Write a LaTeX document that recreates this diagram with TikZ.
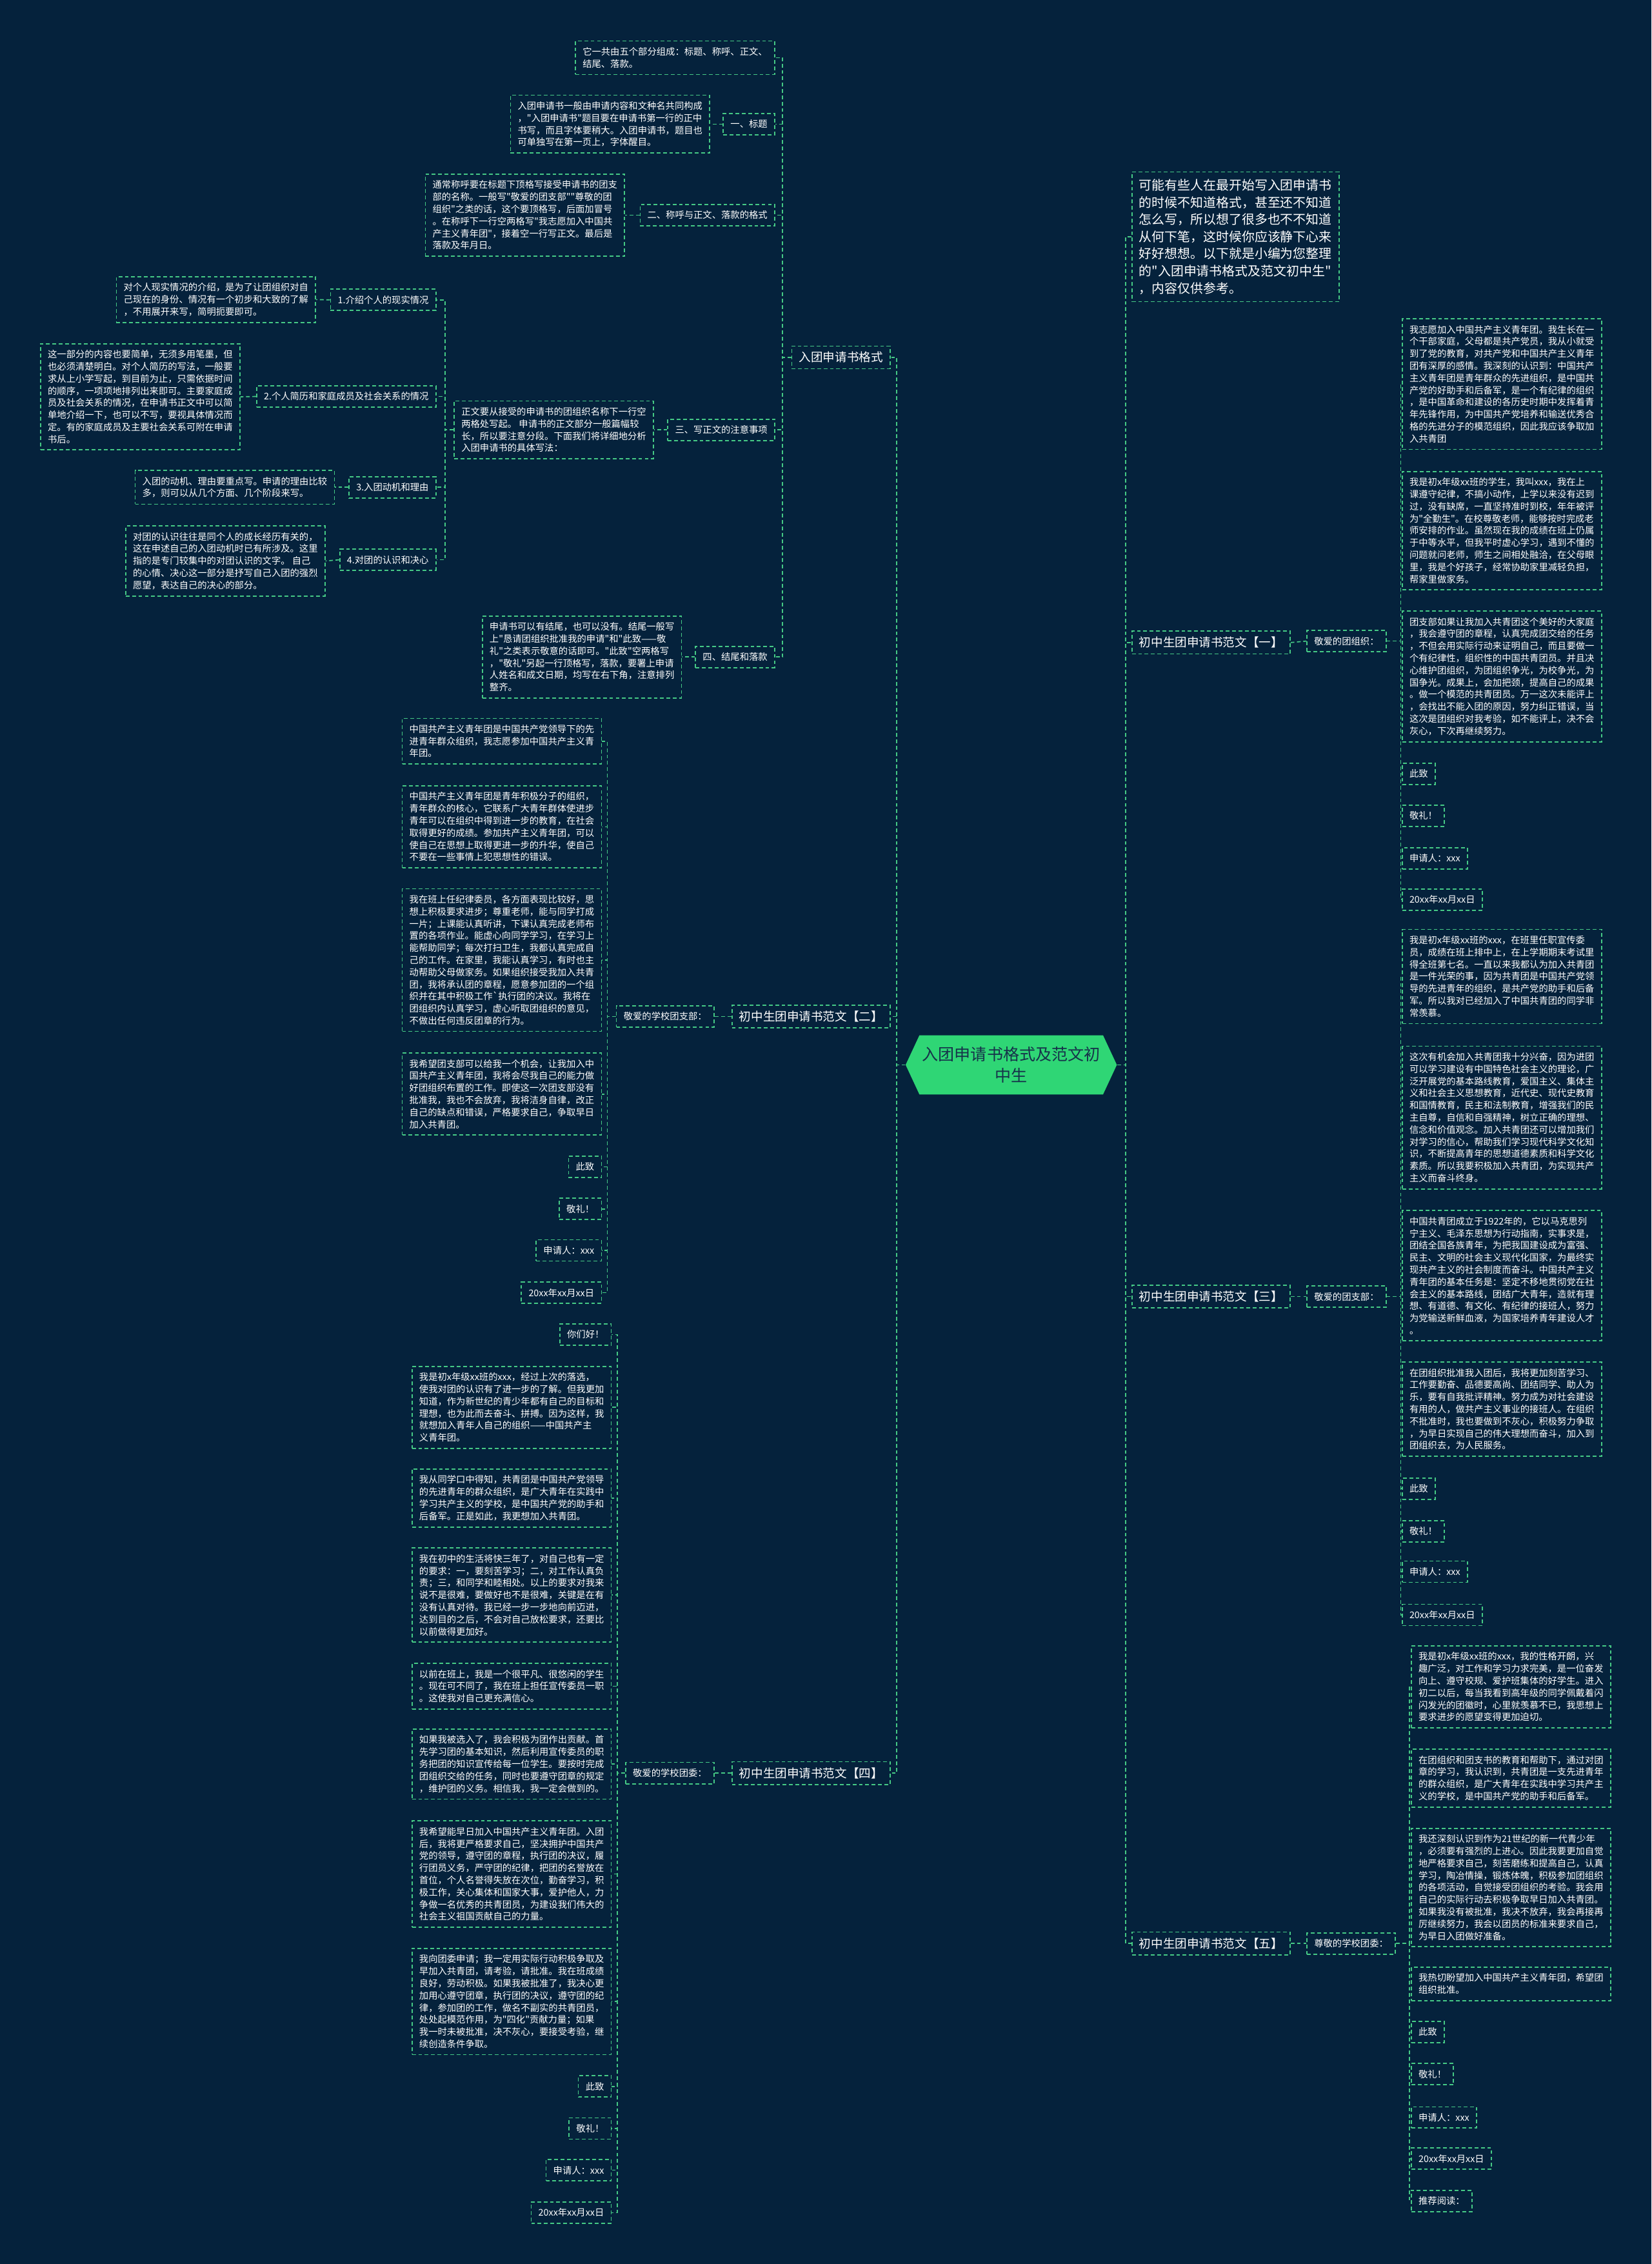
\documentclass[tikz,border=0pt]{standalone}
\usepackage{fontspec}
\setmainfont{Noto Sans CJK SC}[Ligatures=TeXOff]
\usetikzlibrary{shapes.symbols}
\usepackage{xcolor}

\definecolor{bgnavy}{HTML}{05223C}
\definecolor{linegreen}{HTML}{45C985}
\definecolor{hubgreen}{HTML}{2FD675}
\definecolor{hubtext}{HTML}{16324A}

\newcommand{\leaffont}{\fontsize{6.4pt}{8.4pt}\selectfont}
\newcommand{\branchfont}{\fontsize{8.3pt}{10pt}\selectfont}
\newcommand{\introfont}{\fontsize{8.9pt}{11.9pt}\selectfont}
\newcommand{\hubfont}{\fontsize{11.2pt}{15pt}\selectfont}

\begin{document}
\begin{tikzpicture}[
      x=1pt, y=-1pt,
      green_dash/.style={dash pattern=on 2.6pt off 1.8pt, line width=0.75pt},
      block/.style={rectangle, draw=linegreen, green_dash, text=white, font=\leaffont, align=left, inner xsep=5pt, inner ysep=4.4pt},
      left_block/.style={block, anchor=east},
      right_block/.style={block, anchor=west},
      branch_left/.style={left_block, font=\branchfont, inner ysep=4pt},
      branch_right/.style={right_block, font=\branchfont, inner ysep=4pt},
      intro_block/.style={right_block, font=\introfont, inner ysep=5pt},
      hub_block/.style={signal, signal to=west and east, signal pointer angle=130, fill=hubgreen, text=hubtext, font=\hubfont, align=center, minimum width=143pt, minimum height=41pt, inner xsep=2pt},
      line/.style={draw=linegreen, green_dash}
  ]

  \fill[bgnavy] (0,0) rectangle (1144,1568);
  \useasboundingbox (0,0) rectangle (1144,1568);

  \node [hub_block] (hub) at (700.5,737.5) {入团申请书格式及范文初\\中生};

  % left: format
  \node [branch_left] (fmt) at (617,247.5) {入团申请书格式};
  \node [left_block] (parts) at (537,40) {它一共由五个部分组成：标题、称呼、正文、\\结尾、落款。};
  \node [left_block] (title) at (537,86) {一、标题};
  \node [left_block] (title_txt) at (492,86) {入团申请书一般由申请内容和文种名共同构成\\，"入团申请书"题目要在申请书第一行的正中\\书写，而且字体要稍大。入团申请书，题目也\\可单独写在第一页上，字体醒目。};
  \node [left_block] (call) at (537,149) {二、称呼与正文、落款的格式};
  \node [left_block] (call_txt) at (433,149) {通常称呼要在标题下顶格写接受申请书的团支\\部的名称。一般写"敬爱的团支部""尊敬的团\\组织"之类的话，这个要顶格写，后面加冒号\\。在称呼下一行空两格写"我志愿加入中国共\\产主义青年团"，接着空一行写正文。最后是\\落款及年月日。};
  \node [left_block] (body) at (537,297.7) {三、写正文的注意事项};
  \node [left_block] (body_txt) at (453,297.7) {正文要从接受的申请书的团组织名称下一行空\\两格处写起。 申请书的正文部分一般篇幅较\\长，所以要注意分段。下面我们将详细地分析\\入团申请书的具体写法：};
  \node [left_block] (item1) at (302.3,207.7) {1.介绍个人的现实情况};
  \node [left_block] (item1_txt) at (219,207.5) {对个人现实情况的介绍，是为了让团组织对自\\己现在的身份、情况有一个初步和大致的了解\\，不用展开来写，简明扼要即可。};
  \node [left_block] (item2) at (302.3,274.6) {2.个人简历和家庭成员及社会关系的情况};
  \node [left_block] (item2_txt) at (166.5,274.8) {这一部分的内容也要简单，无须多用笔墨，但\\也必须清楚明白。对个人简历的写法，一般要\\求从上小学写起，到目前为止，只需依据时间\\的顺序，一项项地排列出来即可。主要家庭成\\员及社会关系的情况，在申请书正文中可以简\\单地介绍一下，也可以不写，要视具体情况而\\定。有的家庭成员及主要社会关系可附在申请\\书后。};
  \node [left_block] (item3) at (302.3,337.5) {3.入团动机和理由};
  \node [left_block] (item3_txt) at (232,337.5) {入团的动机、理由要重点写。申请的理由比较\\多，则可以从几个方面、几个阶段来写。};
  \node [left_block] (item4) at (302.3,387.7) {4.对团的认识和决心};
  \node [left_block] (item4_txt) at (225.5,388.5) {对团的认识往往是同个人的成长经历有关的，\\这在申述自己的入团动机时已有所涉及。这里\\指的是专门较集中的对团认识的文字。 自己\\的心情、决心这一部分是抒写自己入团的强烈\\愿望，表达自己的决心的部分。};
  \node [left_block] (end) at (537,455) {四、结尾和落款};
  \node [left_block] (end_txt) at (472.5,455) {申请书可以有结尾，也可以没有。结尾一般写\\上"恳请团组织批准我的申请"和"此致——敬\\礼"之类表示敬意的话即可。"此致"空两格写\\，"敬礼"另起一行顶格写，落款，要署上申请\\人姓名和成文日期，均写在右下角，注意排列\\整齐。};

  % left: sample two
  \node [branch_left] (two) at (617,704) {初中生团申请书范文【二】};
  \node [left_block] (two_to) at (495,704) {敬爱的学校团支部：};
  \node [left_block] (two_p1) at (417,513.3) {中国共产主义青年团是中国共产党领导下的先\\进青年群众组织，我志愿参加中国共产主义青\\年团。};
  \node [left_block] (two_p2) at (417,572.6) {中国共产主义青年团是青年积极分子的组织，\\青年群众的核心，它联系广大青年群体使进步\\青年可以在组织中得到进一步的教育，在社会\\取得更好的成绩。参加共产主义青年团，可以\\使自己在思想上取得更进一步的升华，使自己\\不要在一些事情上犯思想性的错误。};
  \node [left_block] (two_p3) at (417,664.9) {我在班上任纪律委员，各方面表现比较好，思\\想上积极要求进步；尊重老师，能与同学打成\\一片；上课能认真听讲，下课认真完成老师布\\置的各项作业。能虚心向同学学习，在学习上\\能帮助同学；每次打扫卫生，我都认真完成自\\己的工作。在家里，我能认真学习，有时也主\\动帮助父母做家务。如果组织接受我加入共青\\团，我将承认团的章程，愿意参加团的一个组\\织并在其中积极工作`执行团的决议。我将在\\团组织内认真学习，虚心听取团组织的意见，\\不做出任何违反团章的行为。};
  \node [left_block] (two_p4) at (417,757.7) {我希望团支部可以给我一个机会，让我加入中\\国共产主义青年团，我将会尽我自己的能力做\\好团组织布置的工作。即使这一次团支部没有\\批准我，我也不会放弃，我将洁身自律，改正\\自己的缺点和错误，严格要求自己，争取早日\\加入共青团。};
  \node [left_block] (two_e1) at (417,808.1) {此致};
  \node [left_block] (two_e2) at (417,837.3) {敬礼！};
  \node [left_block] (two_e3) at (417,866) {申请人：xxx};
  \node [left_block] (two_e4) at (417,895.3) {20xx年xx月xx日};

  % left: sample four
  \node [branch_left] (four) at (617,1228) {初中生团申请书范文【四】};
  \node [left_block] (four_to) at (495,1228) {敬爱的学校团委：};
  \node [left_block] (four_hi) at (423.8,924.3) {你们好！};
  \node [left_block] (four_p1) at (423.8,974.7) {我是初x年级xx班的xxx，经过上次的落选，\\使我对团的认识有了进一步的了解。但我更加\\知道，作为新世纪的青少年都有自己的目标和\\理想，也为此而去奋斗、拼搏。因为这样，我\\就想加入青年人自己的组织——中国共产主\\义青年团。};
  \node [left_block] (four_p2) at (423.8,1037.5) {我从同学口中得知，共青团是中国共产党领导\\的先进青年的群众组织，是广大青年在实践中\\学习共产主义的学校，是中国共产党的助手和\\后备军。正是如此，我更想加入共青团。};
  \node [left_block] (four_p3) at (423.8,1104.7) {我在初中的生活将快三年了，对自己也有一定\\的要求：一，要刻苦学习；二，对工作认真负\\责；三，和同学和睦相处。以上的要求对我来\\说不是很难，要做好也不是很难，关键是在有\\没有认真对待。我已经一步一步地向前迈进，\\达到目的之后，不会对自己放松要求，还要比\\以前做得更加好。};
  \node [left_block] (four_p4) at (423.8,1167.8) {以前在班上，我是一个很平凡、很悠闲的学生\\。现在可不同了，我在班上担任宣传委员一职\\。这使我对自己更充满信心。};
  \node [left_block] (four_p5) at (423.8,1221.8) {如果我被选入了，我会积极为团作出贡献。首\\先学习团的基本知识，然后利用宣传委员的职\\务把团的知识宣传给每一位学生。要按时完成\\团组织交给的任务，同时也要遵守团章的规定\\，维护团的义务。相信我，我一定会做到的。};
  \node [left_block] (four_p6) at (423.8,1297.9) {我希望能早日加入中国共产主义青年团。入团\\后，我将更严格要求自己，坚决拥护中国共产\\党的领导，遵守团的章程，执行团的决议，履\\行团员义务，严守团的纪律，把团的名誉放在\\首位，个人名誉得失放在次位，勤奋学习，积\\极工作，关心集体和国家大事，爱护他人，力\\争做一名优秀的共青团员，为建设我们伟大的\\社会主义祖国贡献自己的力量。};
  \node [left_block] (four_p7) at (423.8,1386.2) {我向团委申请；我一定用实际行动积极争取及\\早加入共青团，请考验，请批准。我在班成绩\\良好，劳动积极。如果我被批准了，我决心更\\加用心遵守团章，执行团的决议，遵守团的纪\\律，参加团的工作，做名不副实的共青团员，\\处处起模范作用，为"四化"贡献力量；如果\\我一时未被批准，决不灰心，要接受考验，继\\续创造条件争取。};
  \node [left_block] (four_e1) at (423.8,1445) {此致};
  \node [left_block] (four_e2) at (423.8,1474.1) {敬礼！};
  \node [left_block] (four_e3) at (423.8,1503) {申请人：xxx};
  \node [left_block] (four_e4) at (423.8,1532.4) {20xx年xx月xx日};

  % right: intro and sample one
  \node [intro_block] (intro) at (783.7,164) {可能有些人在最开始写入团申请书\\的时候不知道格式，甚至还不知道\\怎么写，所以想了很多也不不知道\\从何下笔，这时候你应该静下心来\\好好想想。以下就是小编为您整理\\的"入团申请书格式及范文初中生"\\，内容仅供参考。};
  \node [branch_right] (one) at (783.7,445) {初中生团申请书范文【一】};
  \node [right_block] (one_to) at (905,444) {敬爱的团组织：};
  \node [right_block] (one_p1) at (971,266) {我志愿加入中国共产主义青年团。我生长在一\\个干部家庭，父母都是共产党员，我从小就受\\到了党的教育，对共产党和中国共产主义青年\\团有深厚的感情。我深刻的认识到：中国共产\\主义青年团是青年群众的先进组织，是中国共\\产党的好助手和后备军，是一个有纪律的组织\\，是中国革命和建设的各历史时期中发挥着青\\年先锋作用，为中国共产党培养和输送优秀合\\格的先进分子的模范组织，因此我应该争取加\\入共青团};
  \node [right_block] (one_p2) at (971,367.5) {我是初x年级xx班的学生，我叫xxx，我在上\\课遵守纪律，不搞小动作，上学以来没有迟到\\过，没有缺席，一直坚持准时到校，年年被评\\为"全勤生"。在校尊敬老师，能够按时完成老\\师安排的作业。虽然现在我的成绩在班上仍属\\于中等水平，但我平时虚心学习，遇到不懂的\\问题就问老师，师生之间相处融洽，在父母眼\\里，我是个好孩子，经常协助家里减轻负担，\\帮家里做家务。};
  \node [right_block] (one_p3) at (971,468.5) {团支部如果让我加入共青团这个美好的大家庭\\，我会遵守团的章程，认真完成团交给的任务\\，不但会用实际行动来证明自己，而且要做一\\个有纪律性，组织性的中国共青团员。并且决\\心维护团组织，为团组织争光，为校争光，为\\国争光。成果上，会加把颈，提高自己的成果\\。做一个模范的共青团员。万一这次未能评上\\，会找出不能入团的原因，努力纠正错误，当\\这次是团组织对我考验，如不能评上，决不会\\灰心，下次再继续努力。};
  \node [right_block] (one_e1) at (971,536) {此致};
  \node [right_block] (one_e2) at (971,565) {敬礼！};
  \node [right_block] (one_e3) at (971,594.5) {申请人：xxx};
  \node [right_block] (one_e4) at (971,623) {20xx年xx月xx日};

  % right: sample three
  \node [branch_right] (three) at (783.7,898) {初中生团申请书范文【三】};
  \node [right_block] (three_to) at (905,898) {敬爱的团支部：};
  \node [right_block] (three_p1) at (971,676.3) {我是初x年级xx班的xxx，在班里任职宣传委\\员，成绩在班上排中上，在上学期期末考试里\\得全班第七名。一直以来我都认为加入共青团\\是一件光荣的事，因为共青团是中国共产党领\\导的先进青年的组织，是共产党的助手和后备\\军。所以我对已经加入了中国共青团的同学非\\常羡慕。};
  \node [right_block] (three_p2) at (971,774) {这次有机会加入共青团我十分兴奋，因为进团\\可以学习建设有中国特色社会主义的理论，广\\泛开展党的基本路线教育，爱国主义、集体主\\义和社会主义思想教育，近代史、现代史教育\\和国情教育，民主和法制教育，增强我们的民\\主自尊，自信和自强精神，树立正确的理想、\\信念和价值观念。加入共青团还可以增加我们\\对学习的信心，帮助我们学习现代科学文化知\\识，不断提高青年的思想道德素质和科学文化\\素质。所以我要积极加入共青团，为实现共产\\主义而奋斗终身。};
  \node [right_block] (three_p3) at (971,883.5) {中国共青团成立于1922年的，它以马克思列\\宁主义、毛泽东思想为行动指南，实事求是，\\团结全国各族青年，为把我国建设成为富强、\\民主、文明的社会主义现代化国家，为最终实\\现共产主义的社会制度而奋斗。中国共产主义\\青年团的基本任务是：坚定不移地贯彻党在社\\会主义的基本路线，团结广大青年，造就有理\\想、有道德、有文化、有纪律的接班人，努力\\为党输送新鲜血液，为国家培养青年建设人才\\。};
  \node [right_block] (three_p4) at (971,976) {在团组织批准我入团后，我将更加刻苦学习、\\工作要勤奋、品德要高尚、团结同学、助人为\\乐，要有自我批评精神。努力成为对社会建设\\有用的人，做共产主义事业的接班人。在组织\\不批准时，我也要做到不灰心，积极努力争取\\，为早日实现自己的伟大理想而奋斗，加入到\\团组织去，为人民服务。};
  \node [right_block] (three_e1) at (971,1031) {此致};
  \node [right_block] (three_e2) at (971,1060.5) {敬礼！};
  \node [right_block] (three_e3) at (971,1088.5) {申请人：xxx};
  \node [right_block] (three_e4) at (971,1118.5) {20xx年xx月xx日};

  % right: sample five
  \node [branch_right] (five) at (783.7,1346) {初中生团申请书范文【五】};
  \node [right_block] (five_to) at (905,1346) {尊敬的学校团委：};
  \node [right_block] (five_p1) at (977.3,1168.3) {我是初x年级xx班的xxx，我的性格开朗，兴\\趣广泛，对工作和学习力求完美，是一位奋发\\向上、遵守校规、爱护班集体的好学生。进入\\初二以后，每当我看到高年级的同学佩戴着闪\\闪发光的团徽时，心里就羡慕不已，我思想上\\要求进步的愿望变得更加迫切。};
  \node [right_block] (five_p2) at (977.3,1231.5) {在团组织和团支书的教育和帮助下，通过对团\\章的学习，我认识到，共青团是一支先进青年\\的群众组织，是广大青年在实践中学习共产主\\义的学校，是中国共产党的助手和后备军。};
  \node [right_block] (five_p3) at (977.3,1307.2) {我还深刻认识到作为21世纪的新一代青少年\\，必须要有强烈的上进心。因此我要更加自觉\\地严格要求自己，刻苦磨练和提高自己，认真\\学习，陶冶情操，锻炼体魄，积极参加团组织\\的各项活动，自觉接受团组织的考验。我会用\\自己的实际行动去积极争取早日加入共青团。\\如果我没有被批准，我决不放弃，我会再接再\\厉继续努力，我会以团员的标准来要求自己，\\为早日入团做好准备。};
  \node [right_block] (five_p4) at (977.3,1374) {我热切盼望加入中国共产主义青年团，希望团\\组织批准。};
  \node [right_block] (five_e1) at (977.3,1407.3) {此致};
  \node [right_block] (five_e2) at (977.3,1436.5) {敬礼！};
  \node [right_block] (five_e3) at (977.3,1466.5) {申请人：xxx};
  \node [right_block] (five_e4) at (977.3,1495) {20xx年xx月xx日};
  \node [right_block] (five_more) at (977.3,1524.3) {推荐阅读：};


  \path [line] (hub.west) -- ++(-6,0) |- (fmt.east);
  \path [line] (hub.west) -- ++(-6,0) |- (two.east);
  \path [line] (hub.west) -- ++(-6,0) |- (four.east);
  \path [line] (hub.east) -- ++(6,0) |- (intro.west);
  \path [line] (hub.east) -- ++(6,0) |- (one.west);
  \path [line] (hub.east) -- ++(6,0) |- (three.west);
  \path [line] (hub.east) -- ++(6,0) |- (five.west);

  \path [line] (fmt.west) -- ++(-6,0) |- (parts.east);
  \path [line] (fmt.west) -- ++(-6,0) |- (title.east);
  \path [line] (fmt.west) -- ++(-6,0) |- (call.east);
  \path [line] (fmt.west) -- ++(-6,0) |- (body.east);
  \path [line] (fmt.west) -- ++(-6,0) |- (end.east);
  \path [line] (title.west) -- (title_txt.east);
  \path [line] (call.west) -- (call_txt.east);
  \path [line] (body.west) -- (body_txt.east);
  \path [line] (end.west) -- (end_txt.east);
  \path [line] (body_txt.west) -- ++(-6,0) |- (item1.east);
  \path [line] (body_txt.west) -- ++(-6,0) |- (item2.east);
  \path [line] (body_txt.west) -- ++(-6,0) |- (item3.east);
  \path [line] (body_txt.west) -- ++(-6,0) |- (item4.east);
  \path [line] (item1.west) -- (item1_txt.east);
  \path [line] (item2.west) -- (item2_txt.east);
  \path [line] (item3.west) -- (item3_txt.east);
  \path [line] (item4.west) -- (item4_txt.east);

  \path [line] (two.west) -- (two_to.east);
  \path [line] (two_to.west) -- ++(-6,0) |- (two_p1.east);
  \path [line] (two_to.west) -- ++(-6,0) |- (two_p2.east);
  \path [line] (two_to.west) -- ++(-6,0) |- (two_p3.east);
  \path [line] (two_to.west) -- ++(-6,0) |- (two_p4.east);
  \path [line] (two_to.west) -- ++(-6,0) |- (two_e1.east);
  \path [line] (two_to.west) -- ++(-6,0) |- (two_e2.east);
  \path [line] (two_to.west) -- ++(-6,0) |- (two_e3.east);
  \path [line] (two_to.west) -- ++(-6,0) |- (two_e4.east);

  \path [line] (four.west) -- (four_to.east);
  \path [line] (four_to.west) -- ++(-5.5,0) |- (four_hi.east);
  \path [line] (four_to.west) -- ++(-5.5,0) |- (four_p1.east);
  \path [line] (four_to.west) -- ++(-5.5,0) |- (four_p2.east);
  \path [line] (four_to.west) -- ++(-5.5,0) |- (four_p3.east);
  \path [line] (four_to.west) -- ++(-5.5,0) |- (four_p4.east);
  \path [line] (four_to.west) -- ++(-5.5,0) |- (four_p5.east);
  \path [line] (four_to.west) -- ++(-5.5,0) |- (four_p6.east);
  \path [line] (four_to.west) -- ++(-5.5,0) |- (four_p7.east);
  \path [line] (four_to.west) -- ++(-5.5,0) |- (four_e1.east);
  \path [line] (four_to.west) -- ++(-5.5,0) |- (four_e2.east);
  \path [line] (four_to.west) -- ++(-5.5,0) |- (four_e3.east);
  \path [line] (four_to.west) -- ++(-5.5,0) |- (four_e4.east);

  \path [line] (one.east) -- (one_to.west);
  \path [line] (one_to.east) -- ++(9.8,0) |- (one_p1.west);
  \path [line] (one_to.east) -- ++(9.8,0) |- (one_p2.west);
  \path [line] (one_to.east) -- ++(9.8,0) |- (one_p3.west);
  \path [line] (one_to.east) -- ++(9.8,0) |- (one_e1.west);
  \path [line] (one_to.east) -- ++(9.8,0) |- (one_e2.west);
  \path [line] (one_to.east) -- ++(9.8,0) |- (one_e3.west);
  \path [line] (one_to.east) -- ++(9.8,0) |- (one_e4.west);

  \path [line] (three.east) -- (three_to.west);
  \path [line] (three_to.east) -- ++(9.8,0) |- (three_p1.west);
  \path [line] (three_to.east) -- ++(9.8,0) |- (three_p2.west);
  \path [line] (three_to.east) -- ++(9.8,0) |- (three_p3.west);
  \path [line] (three_to.east) -- ++(9.8,0) |- (three_p4.west);
  \path [line] (three_to.east) -- ++(9.8,0) |- (three_e1.west);
  \path [line] (three_to.east) -- ++(9.8,0) |- (three_e2.west);
  \path [line] (three_to.east) -- ++(9.8,0) |- (three_e3.west);
  \path [line] (three_to.east) -- ++(9.8,0) |- (three_e4.west);

  \path [line] (five.east) -- (five_to.west);
  \path [line] (five_to.east) -- ++(9.5,0) |- (five_p1.west);
  \path [line] (five_to.east) -- ++(9.5,0) |- (five_p2.west);
  \path [line] (five_to.east) -- ++(9.5,0) |- (five_p3.west);
  \path [line] (five_to.east) -- ++(9.5,0) |- (five_p4.west);
  \path [line] (five_to.east) -- ++(9.5,0) |- (five_e1.west);
  \path [line] (five_to.east) -- ++(9.5,0) |- (five_e2.west);
  \path [line] (five_to.east) -- ++(9.5,0) |- (five_e3.west);
  \path [line] (five_to.east) -- ++(9.5,0) |- (five_e4.west);
  \path [line] (five_to.east) -- ++(9.5,0) |- (five_more.west);

\end{tikzpicture}
\end{document}
